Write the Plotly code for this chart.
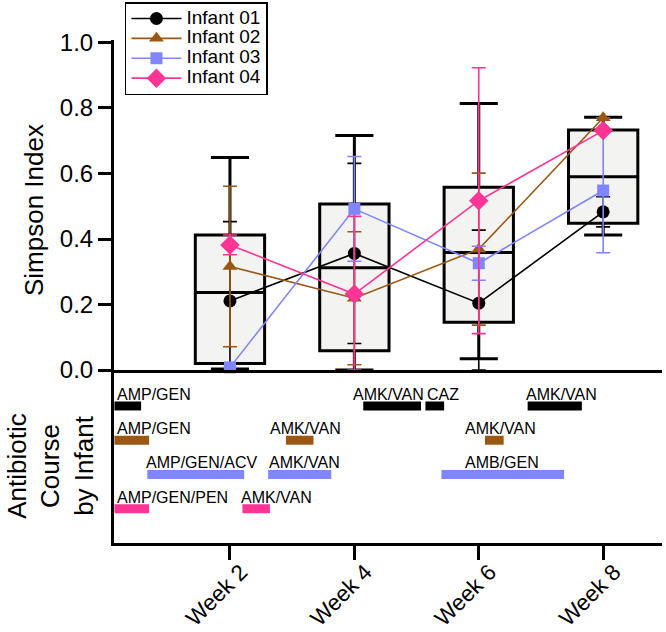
import plotly.graph_objects as go

# ---------------- data ----------------
week_days = [14, 28, 42, 56]            # day of life for each sampling week
week_labels = ["Week 2", "Week 4", "Week 6", "Week 8"]

# box-plot summaries of Simpson index per week
box_low = [0.003, 0.0, 0.034, 0.412]
box_q1 = [0.02, 0.059, 0.146, 0.448]
box_med = [0.237, 0.312, 0.359, 0.590]
box_q3 = [0.412, 0.507, 0.558, 0.733]
box_high = [0.649, 0.716, 0.814, 0.772]

infant_names = ["Infant 01", "Infant 02", "Infant 03", "Infant 04"]
infant01 = [0.211, 0.356, 0.204, 0.483]
infant01_err = [0.242, 0.275, 0.223, 0.046]
infant02 = [0.316, 0.219, 0.369, 0.770]
infant02_err = [0.245, 0.203, 0.232, 0.0]
infant03 = [0.008, 0.492, 0.326, 0.548]
infant03_err = [0.0, 0.160, 0.052, 0.190]
infant04 = [0.382, 0.232, 0.517, 0.731]
infant04_err = [0.030, 0.237, 0.406, 0.0]

# antibiotic courses (day of life start / end) per infant
abx01_names = ["AMP/GEN", "AMK/VAN", "CAZ", "AMK/VAN"]
abx01_start = [1.0, 29.0, 36.0, 47.5]
abx01_end = [4.0, 35.5, 38.1, 53.6]
abx02_names = ["AMP/GEN", "AMK/VAN", "AMK/VAN"]
abx02_start = [1.0, 20.3, 42.7]
abx02_end = [4.9, 23.4, 44.8]
abx03_names = ["AMP/GEN/ACV", "AMK/VAN", "AMB/GEN"]
abx03_start = [4.7, 18.3, 37.8]
abx03_end = [15.6, 25.4, 51.6]
abx04_names = ["AMP/GEN/PEN", "AMK/VAN"]
abx04_start = [1.0, 15.4]
abx04_end = [4.9, 18.5]

# ---------------- styling ----------------
colors = ["#000000", "#9b5814", "#7f86ff", "#ff3595"]
symbols = ["circle", "triangle-up", "square", "diamond"]
msizes = [13, 13, 12, 15]
FONT = "Liberation Sans, Arial, sans-serif"
# label left positions (day units) for each course label, per infant row
label_x = [
    [1.06, 27.6, 36.0, 47.1],
    [1.06, 18.3, 40.2],
    [4.3, 18.2, 40.2],
    [1.06, 15.0],
]

series = [
    (infant01, infant01_err),
    (infant02, infant02_err),
    (infant03, infant03_err),
    (infant04, infant04_err),
]
courses = [
    (abx01_names, abx01_start, abx01_end),
    (abx02_names, abx02_start, abx02_end),
    (abx03_names, abx03_start, abx03_end),
    (abx04_names, abx04_start, abx04_end),
]

fig = go.Figure()

fig.add_trace(go.Box(
    x=week_days, q1=box_q1, median=box_med, q3=box_q3,
    lowerfence=box_low, upperfence=box_high,
    width=7.8, whiskerwidth=0.55, boxpoints=False,
    fillcolor="#f3f3f1", line=dict(color="black", width=3),
    showlegend=False, hoverinfo="skip", xaxis="x", yaxis="y",
))

for name, (vals, errs), col, sym, ms in zip(infant_names, series, colors, symbols, msizes):
    minus = [min(e, v) for v, e in zip(vals, errs)]
    fig.add_trace(go.Scatter(
        x=week_days, y=vals,
        name='<span style="font-size:19px">' + name + '</span>',
        mode="lines+markers",
        line=dict(color=col, width=1.6),
        marker=dict(symbol=sym, size=ms, color=col),
        error_y=dict(type="data", array=errs, arrayminus=minus, symmetric=False,
                     color=col, thickness=1.6, width=7),
        cliponaxis=False, xaxis="x", yaxis="y",
    ))

annotations = []
for row, ((names, starts, ends), col, lx) in enumerate(zip(courses, colors, label_x), start=1):
    fig.add_trace(go.Bar(
        orientation="h", y=[row] * len(starts),
        x=[e - s for s, e in zip(starts, ends)], base=starts,
        width=0.262, marker=dict(color=col, line=dict(width=0)),
        showlegend=False, hoverinfo="skip", xaxis="x2", yaxis="y2",
    ))
    for nm, xx in zip(names, lx):
        annotations.append(dict(
            x=xx, y=row - 0.03, xref="x2", yref="y2", text=nm, showarrow=False,
            xanchor="left", yanchor="bottom", font=dict(size=16, color="black", family=FONT),
        ))

# axis titles
annotations.append(dict(
    x=-0.146, y=0.662, xref="paper", yref="paper", text="Simpson Index",
    textangle=-90, showarrow=False, xanchor="center", yanchor="middle",
    font=dict(size=26, color="black", family=FONT),
))
annotations.append(dict(
    x=-0.1155, y=0.153, xref="paper", yref="paper",
    text="Antibiotic<br>Course<br>by Infant",
    textangle=-90, showarrow=False, xanchor="center", yanchor="middle",
    font=dict(size=26, color="black", family=FONT),
))

split = 173 / 503
xr = [0.95, 62.62]

fig.update_layout(
    width=666, height=632,
    margin=dict(l=114, r=4, t=40, b=89, autoexpand=False),
    paper_bgcolor="white", plot_bgcolor="white",
    font=dict(family=FONT, color="black"),
    barmode="overlay",
    xaxis=dict(domain=[0, 1], anchor="y", range=xr, showline=True, linecolor="black",
               linewidth=3, showticklabels=False, ticks="", showgrid=False, zeroline=False),
    yaxis=dict(domain=[split, 1], anchor="x", range=[0, 1.0076], showline=True,
               linecolor="black", linewidth=3, ticks="outside", ticklen=13, tickwidth=3,
               tickcolor="black", tickvals=[0, 0.2, 0.4, 0.6, 0.8, 1.0],
               ticktext=["0.0", "0.2", "0.4", "0.6", "0.8", "1.0"],
               tickfont=dict(size=24, family=FONT), showgrid=False, zeroline=False),
    xaxis2=dict(domain=[0, 1], anchor="y2", range=xr, showline=True, linecolor="black",
                linewidth=3, ticks="outside", ticklen=14, tickwidth=3, tickcolor="black",
                tickvals=week_days, ticktext=week_labels, tickangle=-45,
                ticklabelshift=11, ticklabelstandoff=-10,
                tickfont=dict(size=22.5, family=FONT), showgrid=False, zeroline=False),
    yaxis2=dict(domain=[0, split], anchor="x2", range=[5.0, -0.05], showline=True,
                linecolor="black", linewidth=3, ticks="", showticklabels=False,
                showgrid=False, zeroline=False),
    legend=dict(x=0.02, y=1.0755, xanchor="left", yanchor="top",
                bgcolor="white", bordercolor="black", borderwidth=1.5,
                font=dict(size=13, family=FONT), itemwidth=50,
                tracegroupgap=0),
    annotations=annotations,
)

fig.write_html("out.html", config={"displayModeBar": False},
               post_script="document.body.style.margin='0';")
